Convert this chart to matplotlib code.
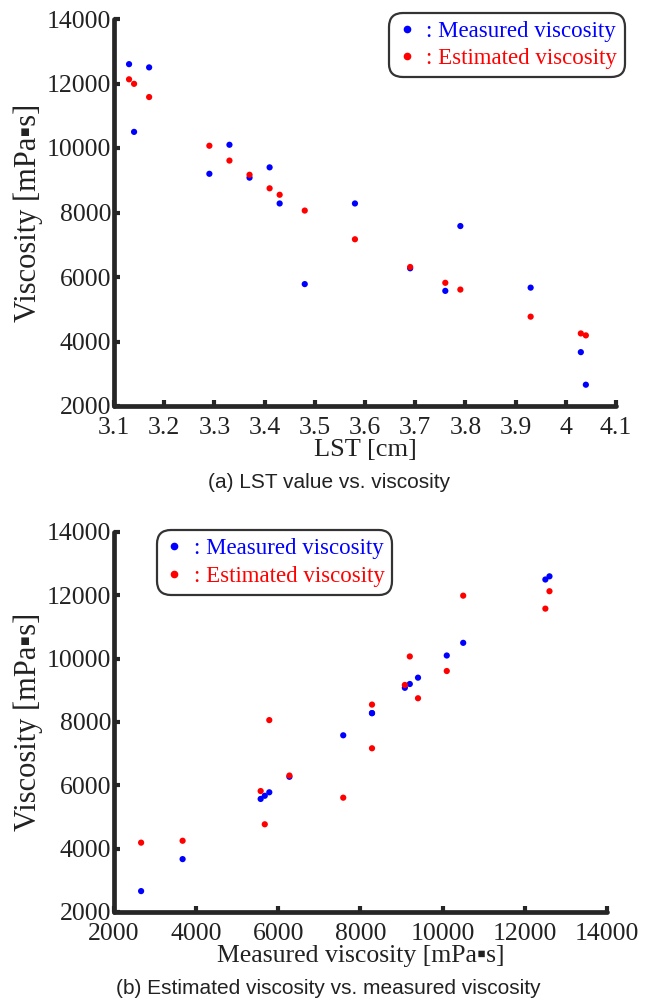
import matplotlib
matplotlib.use('Agg')
import matplotlib.pyplot as plt
from matplotlib.lines import Line2D
from matplotlib.ticker import FuncFormatter

# values
lst_cm = [3.13, 3.14, 3.17, 3.29, 3.33, 3.37, 3.41, 3.43, 3.48, 3.58,
          3.69, 3.76, 3.79, 3.93, 4.03, 4.04]
measured = [12600, 10500, 12500, 9200, 10100, 9080, 9400, 8280, 5780, 8280,
            6270, 5570, 7580, 5670, 3670, 2660]
estimated = [12130, 11990, 11580, 10070, 9610, 9170, 8750, 8550, 8060, 7170,
             6310, 5820, 5610, 4770, 4250, 4190]

lst_ticks = [3.1, 3.2, 3.3, 3.4, 3.5, 3.6, 3.7, 3.8, 3.9, 4.0, 4.1]
visc_ticks = [2000, 4000, 6000, 8000, 10000, 12000, 14000]

label_measured = ': Measured viscosity'
label_estimated = ': Estimated viscosity'
caption_a = '(a) LST value vs. viscosity'
caption_b = '(b) Estimated viscosity vs. measured viscosity'

SERIF = ['Liberation Serif', 'DejaVu Sans']
SANS = ['Liberation Sans', 'DejaVu Sans']
SPINE = '#262626'
TEXT = '#222222'
BLUE = '#0000ff'
RED = '#ff0000'

plt.rcParams['font.family'] = SERIF


def style_axes(ax):
    for side in ['top', 'right']:
        ax.spines[side].set_visible(False)
    for side in ['left', 'bottom']:
        ax.spines[side].set_linewidth(3.4)
        ax.spines[side].set_color(SPINE)
        ax.spines[side].set_capstyle('round')
    ax.tick_params(direction='in', length=4, width=3, color=SPINE,
                   labelsize=18.5, labelcolor=TEXT)
    ax.tick_params(axis='y', pad=2)
    ax.tick_params(axis='x', pad=8)


def add_legend(ax, loc, anchor):
    handles = [Line2D([], [], marker='o', ls='none', color=BLUE, markersize=4.5),
               Line2D([], [], marker='o', ls='none', color=RED, markersize=4.5)]
    leg = ax.legend(handles, [label_measured, label_estimated], loc=loc,
                    bbox_to_anchor=anchor, borderaxespad=0, frameon=True,
                    prop={'family': SERIF, 'size': 16.5}, labelcolor='linecolor',
                    handlelength=0.8, handletextpad=0.45, labelspacing=0.28,
                    borderpad=0.35, fancybox=True)
    frame = leg.get_frame()
    frame.set_edgecolor('black')
    frame.set_linewidth(1.6)
    frame.set_boxstyle('round', pad=0.0, rounding_size=0.6)
    leg.set_clip_on(False)
    return leg


fig = plt.figure(figsize=(6.51, 10), dpi=100)

# (a) LST vs viscosity
ax1 = fig.add_axes([0.1751, 0.594, 0.7711, 0.387])
ax1.scatter(lst_cm, measured, s=20, color=BLUE, edgecolors='none', zorder=3, clip_on=False)
ax1.scatter(lst_cm, estimated, s=20, color=RED, edgecolors='none', zorder=4, clip_on=False)
ax1.set_xlim(3.1, 4.1)
ax1.set_ylim(2000, 14000)
ax1.set_xticks(lst_ticks)
ax1.set_yticks(visc_ticks)
ax1.xaxis.set_major_formatter(FuncFormatter(lambda v, p: f'{v:g}'))
ax1.set_xlabel('LST [cm]', fontsize=19, color=TEXT, labelpad=0)
ax1.set_ylabel('Viscosity [mPa\u25aas]', fontsize=22, color=TEXT, labelpad=3)
style_axes(ax1)
add_legend(ax1, 'upper right', (1.018, 1.016))

# (b) measured vs estimated
ax2 = fig.add_axes([0.1751, 0.088, 0.7573, 0.380])
ax2.scatter(measured, measured, s=20, color=BLUE, edgecolors='none', zorder=3, clip_on=False)
ax2.scatter(measured, estimated, s=20, color=RED, edgecolors='none', zorder=4, clip_on=False)
ax2.set_xlim(2000, 14000)
ax2.set_ylim(2000, 14000)
ax2.set_xticks(visc_ticks)
ax2.set_yticks(visc_ticks)
ax2.set_xlabel('Measured viscosity [mPa\u25aas]', fontsize=18.5, color=TEXT, labelpad=0)
ax2.set_ylabel('Viscosity [mPa\u25aas]', fontsize=22, color=TEXT, labelpad=3)
style_axes(ax2)
add_legend(ax2, 'upper left', (0.087, 1.005))

fig.text(0.505, 0.518, caption_a, ha='center', va='center', fontsize=15,
         family=SANS, color=TEXT)
fig.text(0.505, 0.012, caption_b, ha='center', va='center', fontsize=15,
         family=SANS, color=TEXT)

fig.savefig('out.png', dpi=100)
